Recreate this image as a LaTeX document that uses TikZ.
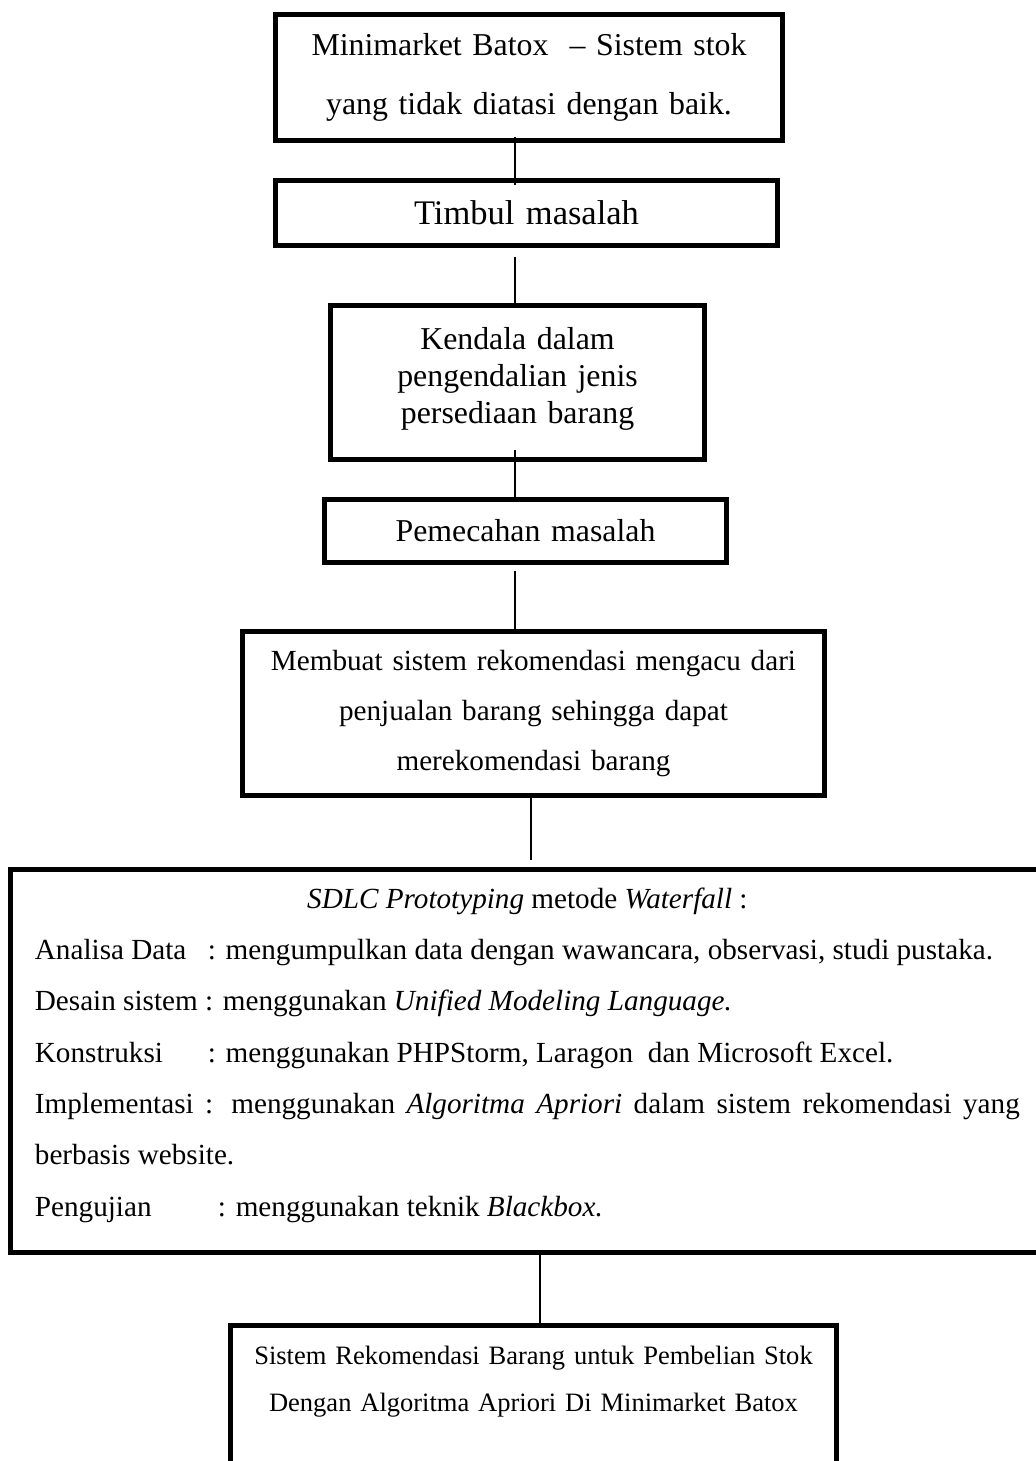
\documentclass[tikz,border=0pt]{standalone}
\usepackage{fontspec}
\setmainfont{Liberation Serif}
\setlength{\parindent}{0pt}

\begin{document}
\begin{tikzpicture}[x=0.377pt, y=-0.377pt,
		box/.style={draw, line width=1.9pt, align=center, inner sep=0pt},
		link/.style={line width=0.5pt}]
		\useasboundingbox (0,0) rectangle (1036,1461);
		\clip (0,0) rectangle (1036,1461);
		\coordinate (garis) at (515,0);
		\coordinate (garisb) at (531,0);
		\coordinate (garisc) at (540,0);
		\node[box, minimum width=191.1pt, minimum height=47.5pt, text width=185pt, font=\fontsize{12}{22}\selectfont] (stok) at (529,77.5) {Minimarket Batox\ \ – Sistem stok\\yang tidak diatasi dengan baik.};
		\node[box, minimum width=189.3pt, minimum height=24.5pt, text width=180pt, font=\fontsize{13}{15}\selectfont] (timbul) at (526.5,213) {Timbul masalah};
		\node[box, minimum width=141pt, minimum height=58.1pt, text width=135pt, font=\fontsize{12}{14}\selectfont] (kendala) at (517.5,382.5) {Kendala dalam\\pengendalian jenis\\persediaan barang\par\nointerlineskip\hbox{\vrule height 2.9pt width 0pt}};
		\node[box, minimum width=151.6pt, minimum height=23.8pt, text width=145pt, font=\fontsize{12}{14}\selectfont] (pemecahan) at (525.5,531) {Pemecahan masalah};
		\node[box, minimum width=219.4pt, minimum height=61.8pt, text width=212pt, font=\fontsize{11}{18.9}\selectfont] (solusi) at (533.5,713.5) {Membuat sistem rekomendasi mengacu dari\\penjualan barang sehingga dapat\\merekomendasi barang};
		\node[box, anchor=north west, align=justify, text width=371.3pt, inner xsep=9.2pt, inner ysep=7pt, font=\fontsize{11}{19.35}\selectfont] (metode) at (8,866.7) {\hbox to\hsize{\hfil\textit{SDLC Prototyping} metode \textit{Waterfall} :\hfil}\par
			\makebox[65.2pt][l]{Analisa Data}: mengumpulkan data dengan wawancara, observasi, studi pustaka.\par
			Desain sistem : menggunakan \textit{Unified Modeling Language.}\par
			\makebox[65.2pt][l]{Konstruksi}: menggunakan PHPStorm, Laragon\ \ dan Microsoft Excel.\par
			Implementasi : menggunakan \textit{Algoritma Apriori} dalam sistem rekomendasi yang\linebreak berbasis website.\par
			\makebox[69pt][l]{Pengujian}: menggunakan teknik \textit{Blackbox.}\par\nointerlineskip\hbox{\vrule height 4.3pt width 0pt}};
		\node[box, anchor=north, minimum width=228.8pt, text width=220pt, inner ysep=7.5pt, text depth=40pt, font=\fontsize{10}{18}\selectfont] (hasil) at (533.5,1323.3) {Sistem Rekomendasi Barang untuk Pembelian Stok\\Dengan Algoritma Apriori Di Minimarket Batox};
		\draw[link, shorten <=-2.3pt, shorten >=-2.6pt] (stok.south -| garis) -- (timbul.north -| garis);
		\draw[link, shorten <=3.4pt] (timbul.south -| garis) -- (kendala.north -| garis);
		\draw[link, shorten <=-4.5pt] (kendala.south -| garis) -- (pemecahan.north -| garis);
		\draw[link, shorten <=2.2pt] (pemecahan.south -| garis) -- (solusi.north -| garis);
		\draw[link, shorten >=2.5pt] (solusi.south -| garisb) -- (metode.north -| garisb);
		\draw[link] (metode.south -| garisc) -- (hasil.north -| garisc);
	\end{tikzpicture}
\end{document}
